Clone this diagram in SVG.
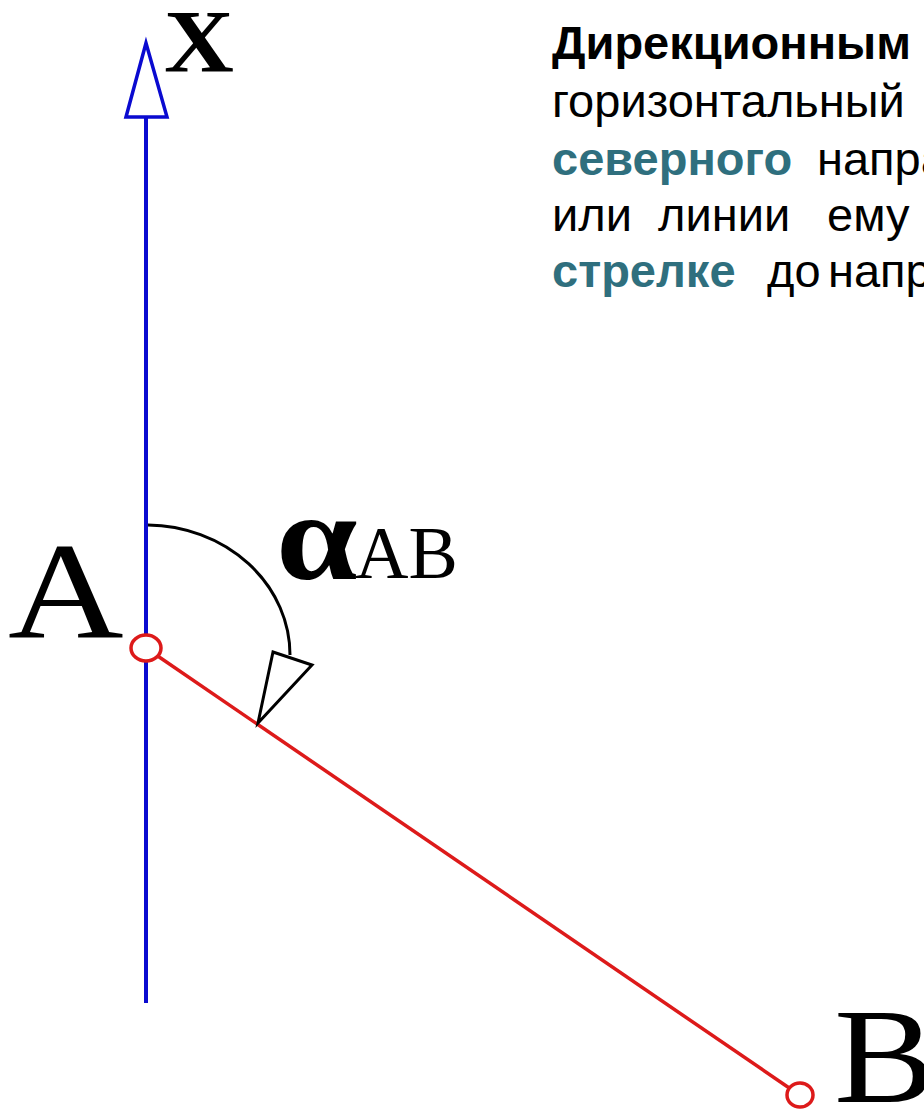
<svg xmlns="http://www.w3.org/2000/svg" width="924" height="1109" viewBox="0 0 924 1109">
<style>
.t{font-family:"Liberation Sans",Arial,sans-serif;font-size:47px;fill:#000}
.b{font-weight:bold}
.c{fill:#2f6f7e;font-weight:bold}
.s{font-family:"Liberation Serif","Times New Roman",serif;fill:#000}
</style>
<rect width="924" height="1109" fill="#fff"/>
<g id="connectors">
<line x1="146" y1="117" x2="146" y2="1003" stroke="#0a0ad0" stroke-width="4"/>
<polygon points="146,43 126,117 167,117" fill="#fff" stroke="#0a0ad0" stroke-width="3.5" stroke-linejoin="miter"/>
<line x1="146" y1="648" x2="798" y2="1094" stroke="#dd1a1a" stroke-width="3.5"/>
<path d="M148,525 A144,130 0 0 1 290,655" fill="none" stroke="#000" stroke-width="3"/>
<polygon points="273,652 312,665 258,723" fill="#fff" stroke="#000" stroke-width="3" stroke-linejoin="miter"/>
</g>
<g id="nodeA">
<ellipse cx="146" cy="648" rx="15" ry="13" fill="#fff" stroke="#dd1a1a" stroke-width="3.5"/>
<text class="s" transform="translate(8,637) scale(1.16,1)" font-size="138">A</text>
</g>
<g id="nodeB">
<ellipse cx="800" cy="1095" rx="13" ry="12" fill="#fff" stroke="#dd1a1a" stroke-width="3.5"/>
<text class="s" transform="translate(834,1102) scale(1.12,1)" font-size="136">B</text>
</g>
<g id="nodeX">
<text class="s" transform="translate(164,71) scale(1.1,1)" font-size="88" font-weight="bold">X</text>
</g>
<g id="angle">
<text class="s" transform="translate(276,579) scale(1.18,1)" font-size="124" font-weight="bold">α</text>
<text class="s" x="355" y="578" font-size="74">AB</text>
</g>
<g id="definition">
<text class="t b" x="552" y="59">Дирекционным</text>
<text class="t" x="552" y="117">горизонтальный</text>
<text class="t c" x="552" y="175">северного</text>
<text class="t" x="817" y="175">напра</text>
<text class="t" x="552" y="231">или</text>
<text class="t" x="658" y="231">линии</text>
<text class="t" x="827" y="231">ему</text>
<text class="t c" x="552" y="287">стрелке</text>
<text class="t" x="767" y="287">до</text>
<text class="t" x="828" y="287">напр</text>
</g>
</svg>
